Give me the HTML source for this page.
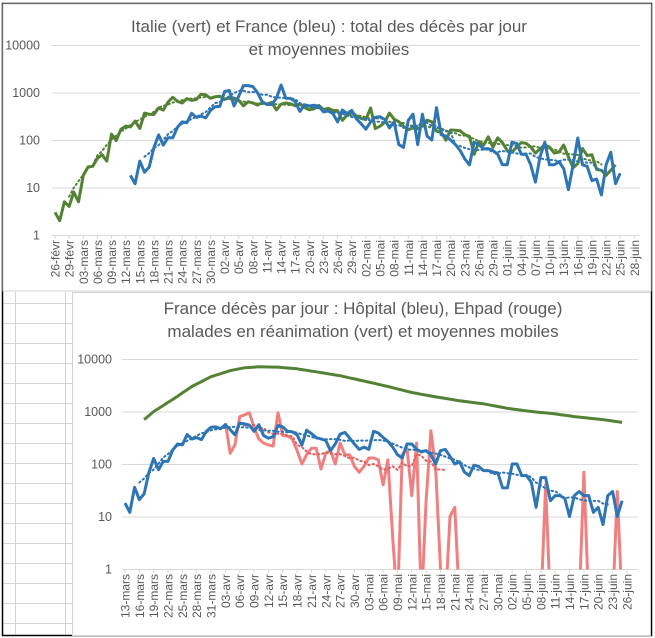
<!DOCTYPE html>
<html><head><meta charset="utf-8"><style>
html,body{margin:0;padding:0;background:#fff}
body{width:655px;height:638px;overflow:hidden;position:relative;font-family:"Liberation Sans",sans-serif}
svg{position:absolute;left:0;top:0}
</style></head><body>
<svg id="s" width="655" height="638" xmlns="http://www.w3.org/2000/svg" font-family="Liberation Sans, sans-serif">
<defs>
<clipPath id="c1"><rect x="52" y="30" width="590" height="205.5"/></clipPath>
<clipPath id="c2"><rect x="120" y="340" width="520" height="229.5"/></clipPath>
</defs>
<g id="bg"></g>
<rect x="2.5" y="3.5" width="649" height="632" fill="none" stroke="#000" stroke-width="1.5"/>
<rect x="3" y="4" width="648" height="287" fill="#fff" stroke="#d0d0d0"/>
<rect x="72.5" y="292.5" width="578" height="343" fill="#fff" stroke="#d0d0d0"/>
<text x="329" y="32" text-anchor="middle" font-size="17" fill="#595959">Italie (vert) et France (bleu) : total des décès par jour</text>
<text x="329" y="55" text-anchor="middle" font-size="17" fill="#595959">et moyennes mobiles</text>
<text x="363" y="314" text-anchor="middle" font-size="17" fill="#595959">France décès par jour : Hôpital (bleu), Ehpad (rouge)</text>
<text x="363" y="337" text-anchor="middle" font-size="17" fill="#595959">malades en réanimation (vert) et moyennes mobiles</text>
<g id="g1"></g><g id="g2"></g>
</svg>
<script>
var NS="http://www.w3.org/2000/svg",S=document.getElementById('s');
function el(p,t,a,txt){var e=document.createElementNS(NS,t);for(var k in a)e.setAttribute(k,a[k]);if(txt!=null)e.textContent=txt;p.appendChild(e);return e;}
var bg=document.getElementById('bg');
for(var y=303;y<636;y+=20)el(bg,'line',{x1:3,x2:72,y1:y+.5,y2:y+.5,stroke:'#d4d4d4'});
[15.5,65.5].forEach(function(x){el(bg,'line',{x1:x,x2:x,y1:292,y2:636,stroke:'#d4d4d4'})});
var months=[['févr',29],['mars',31],['avr',30],['mai',31],['juin',30]];
function dateLab(mi,d,off){d+=off;while(d>months[mi][1]){d-=months[mi][1];mi++;}return (d<10?'0':'')+d+'-'+months[mi][0];}
function chart(g,cfg){
  var x0=cfg.x0,dx=cfg.dx;
  for(var i=0;i<=4;i++){var y=cfg.y1-i*cfg.dec;
    el(g,'line',{x1:cfg.gx0,x2:cfg.gx1,y1:y+.5,y2:y+.5,stroke:'#d9d9d9'});
    el(g,'text',{x:cfg.lx,y:y+4.5,'text-anchor':'end','font-size':12.5,fill:'#595959'},String(Math.pow(10,i)));}
  for(var d=0;d<=cfg.nd;d+=3){var x=x0+d*dx;
    el(g,'line',{x1:x,x2:x,y1:cfg.y1,y2:cfg.y1+4,stroke:'#d9d9d9'});
    el(g,'text',{transform:'translate('+(x+4.5)+','+(cfg.y1+5)+') rotate(-90)','text-anchor':'end','font-size':12,fill:'#595959'},dateLab(cfg.m0,cfg.d0,d));}
  function Y(v){return cfg.y1-Math.log10(v)*cfg.dec;}
  cfg.series.forEach(function(s){
    var dd='',pen=false;
    s.v.forEach(function(v,i){if(v==null){pen=false;return;}var x=x0+(s.o+i)*dx;dd+=(pen?'L':'M')+x.toFixed(1)+' '+Y(v).toFixed(1);pen=true;});
    el(g,'path',{d:dd,fill:'none',stroke:s.c,'stroke-width':s.w||3,'stroke-linejoin':'round','clip-path':cfg.clip});
    if(s.ma){var md='',p2=false;
      for(var i=6;i<s.v.length;i++){var sum=0,ok=true;for(var j=i-6;j<=i;j++){if(s.v[j]==null){ok=false;break;}sum+=Math.max(s.v[j],0)}
        if(!ok||sum<=0||(s.maEnd&&i>s.maEnd)){p2=false;continue;}var x=x0+(s.o+i-3)*dx;md+=(p2?'L':'M')+x.toFixed(1)+' '+Y(sum/7).toFixed(1);p2=true;}
      el(g,'path',{d:md,fill:'none',stroke:s.mc||s.c,'stroke-width':2,'stroke-dasharray':'1.5 3','stroke-linecap':'round','clip-path':cfg.clip});}
  });
}
var ita=[3,2,5,4,8,5,18,27,28,41,49,36,133,97,168,196,189,250,175,368,349,345,475,427,627,793,651,601,743,683,712,919,889,756,812,
837,727,760,766,681,525,636,604,542,610,570,619,431,566,602,578,525,575,482,433,454,534,437,464,420,415,260,333,382,323,
285,269,474,174,195,236,369,274,243,194,165,179,172,195,262,242,153,145,99,162,161,156,130,119,50,92,78,117,70,111,88,
60,55,71,88,85,72,53,65,79,71,53,56,78,44,26,32,66,47,49,24,23,18,23,30];
var mars=[18,12,36,21,27,69,128,78,112,112,186,240,231,365,299,319,292,418,499,509];
var fra=mars.concat([1050,1100,520,830,1400,1400,1340,990,640,560,560,760,1440,760,750,640,400,550,520,540,510,390,410,360,240,430,360,420,280,
220,170,240,300,310,270,180,240,80,70,260,350,80,350,120,100,480,130,120,100,80,60,40,30,90,80,65,66,60,50,30,
30,90,85,50,50,30,13,45,90,30,30,35,25,9,30,110,30,28,14,15,7,30,55,12,20]);
chart(document.getElementById('g1'),{x0:55,dx:4.71,nd:123,m0:0,d0:26,y1:235,dec:47.5,gx0:52,gx1:640,lx:40,clip:'url(#c1)',
 series:[{v:ita,o:0,c:'#548235',ma:1},{v:fra,o:16,c:'#2E75B6',ma:1}]});
var hosp=mars.concat([471,560,450,360,600,580,550,420,560,350,310,330,540,510,420,410,360,230,440,380,320,300,280,180,240,370,400,310,240,
190,210,190,420,390,320,270,210,150,130,240,240,190,170,180,150,100,180,190,140,100,110,70,60,95,90,75,75,70,68,35,
35,100,100,60,60,45,15,55,55,20,25,25,22,10,25,30,25,25,12,15,7,25,30,10,20]);
var N=null,Z=0.2;
var ehp=[];for(var i=0;i<21;i++)ehp.push(N);
ehp=ehp.concat([600,160,230,800,860,950,500,300,250,230,220,950,350,340,300,180,100,150,200,200,80,160,180,100,250,150,150,90,70,
90,130,130,120,40,120,4,Z,150,200,25,250,Z,20,430,80,1,Z,10,15,Z,N,N,N,N,N,N,N,N,N,N,N,N,N,N,N,N,
Z,40,Z,N,N,N,N,N,Z,70,Z,N,N,N,N,Z,30,Z]);
var anc=[[4,700],[6,1000],[10,1700],[14,3000],[18,4600],[22,6000],[25,6800],[28,7100],[32,7000],[36,6500],[40,5700],[45,4800],[50,3800],[55,3000],[60,2300],[65,1900],[70,1600],[75,1400],[80,1150],[85,1000],[90,900],[94,800],[100,700],[104,620]];
var icu=[];for(var d=0;d<=104;d++){if(d<4){icu.push(N);continue;}for(var k=0;k<anc.length-1;k++)if(d>=anc[k][0]&&d<=anc[k+1][0]){var t=(d-anc[k][0])/(anc[k+1][0]-anc[k][0]);icu.push(Math.exp(Math.log(anc[k][1])*(1-t)+Math.log(anc[k+1][1])*t));break;}}
chart(document.getElementById('g2'),{x0:125,dx:4.78,nd:105,m0:1,d0:13,y1:569,dec:52.5,gx0:122,gx1:638,lx:112,clip:'url(#c2)',
 series:[{v:icu,o:0,c:'#548235'},{v:ehp,o:0,c:'#F08080',ma:1,maEnd:70,mc:'#E06060'},{v:hosp,o:0,c:'#2E75B6',ma:1}]});
</script>
</body></html>
